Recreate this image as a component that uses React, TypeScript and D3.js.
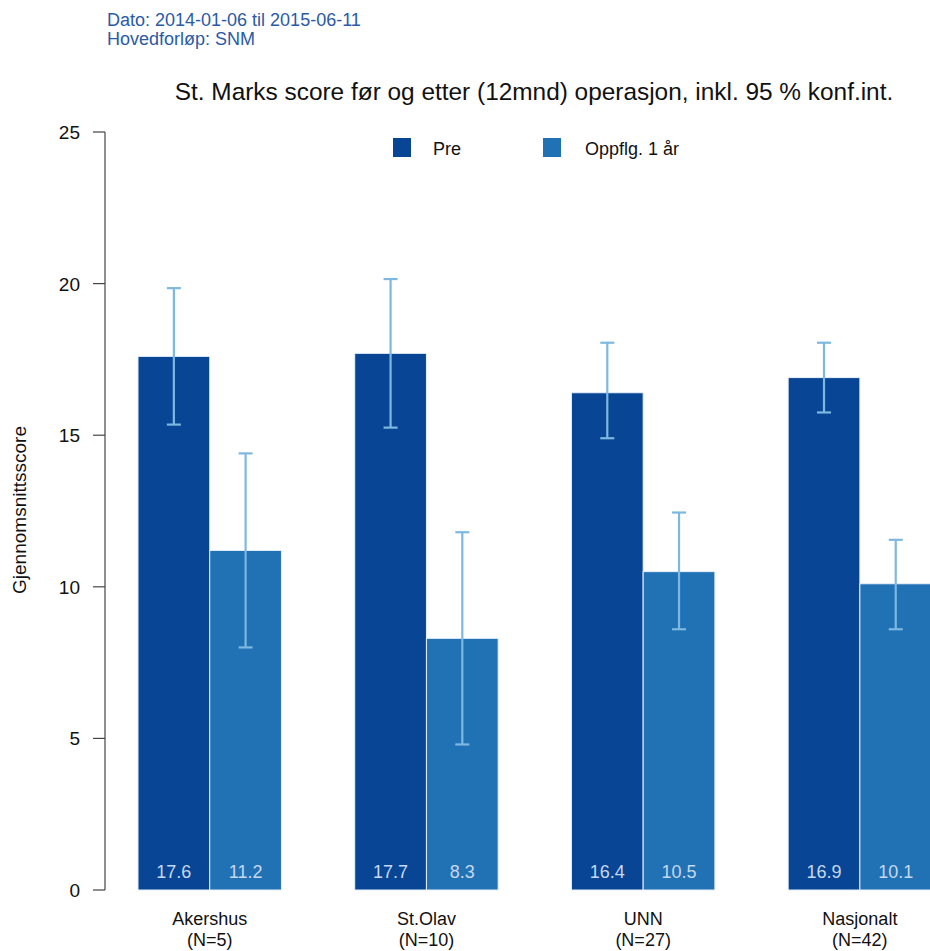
import React from "react";
import * as d3 from "d3";

const categories = ["Akershus", "St.Olav", "UNN", "Nasjonalt"];
const nLabels = ["(N=5)", "(N=10)", "(N=27)", "(N=42)"];
const series = ["Pre", "Oppflg. 1 år"];
const preValues = [17.6, 17.7, 16.4, 16.9];
const postValues = [11.2, 8.3, 10.5, 10.1];
const preLow = [15.35, 15.25, 14.9, 15.75];
const preHigh = [19.85, 20.15, 18.05, 18.05];
const postLow = [8.0, 4.8, 8.6, 8.6];
const postHigh = [14.4, 11.8, 12.45, 11.55];
const yTicks = [0, 5, 10, 15, 20, 25];

const W = 930;
const H = 951;
const colors = ["#084594", "#2171b5"];
const errColor = "#7db8e0";
const font = "'Liberation Sans', Arial, sans-serif";

export default function App() {
  const y = d3.scaleLinear().domain([0, 25]).range([890, 132]);
  const xg = d3
    .scaleBand<string>()
    .domain(categories)
    .range([138, 931.6])
    .paddingInner(0.338)
    .paddingOuter(0);
  const xs = d3.scaleBand<string>().domain(series).range([0, xg.bandwidth()]);
  const vals = [preValues, postValues];
  const lows = [preLow, postLow];
  const highs = [preHigh, postHigh];
  const cap = 7;

  return (
    <svg width={W} height={H} style={{ position: "absolute", left: 0, top: 0, display: "block" }} fontFamily={font}>
      <rect x={0} y={0} width={W} height={H} fill="#fff" />
      <text x={107} y={26} fontSize={18} fill="#2a5aa6">Dato: 2014-01-06 til 2015-06-11</text>
      <text x={107} y={45} fontSize={18} fill="#2a5aa6">Hovedforløp: SNM</text>
      <text x={534} y={100} fontSize={24.4} textAnchor="middle" fill="#111">
        St. Marks score før og etter (12mnd) operasjon, inkl. 95 % konf.int.
      </text>

      {/* y axis */}
      <line x1={105} x2={105} y1={y(0)} y2={y(25)} stroke="#444" strokeWidth={1.2} />
      {yTicks.map((t) => (
        <g key={t}>
          <line x1={93} x2={105} y1={y(t)} y2={y(t)} stroke="#444" strokeWidth={1.2} />
          <text x={80} y={y(t) + 7} fontSize={19} textAnchor="end" fill="#111">{t}</text>
        </g>
      ))}
      <text transform={`translate(26,510) rotate(-90)`} fontSize={19} textAnchor="middle" fill="#111">
        Gjennomsnittsscore
      </text>

      {/* legend */}
      {series.map((s, i) => {
        const lx = [393, 543][i];
        return (
          <g key={s}>
            <rect x={lx} y={138} width={18} height={19} fill={colors[i]} />
            <text x={[433, 585][i]} y={155} fontSize={18} fill="#111">{s}</text>
          </g>
        );
      })}

      {/* bars */}
      {categories.map((c, ci) => (
        <g key={c}>
          {series.map((s, si) => {
            const x0 = (xg(c) as number) + (xs(s) as number);
            const bw = xs.bandwidth();
            const v = vals[si][ci];
            const cx = x0 + bw / 2;
            return (
              <g key={s}>
                <rect x={x0} y={y(v)} width={bw} height={y(0) - y(v)} fill={colors[si]} stroke="#e8f0fa" strokeWidth={1} />
                <line x1={cx} x2={cx} y1={y(lows[si][ci])} y2={y(highs[si][ci])} stroke={errColor} strokeWidth={2.2} />
                <line x1={cx - cap} x2={cx + cap} y1={y(lows[si][ci])} y2={y(lows[si][ci])} stroke={errColor} strokeWidth={2.2} />
                <line x1={cx - cap} x2={cx + cap} y1={y(highs[si][ci])} y2={y(highs[si][ci])} stroke={errColor} strokeWidth={2.2} />
                <text x={cx} y={y(0) - 12} fontSize={18} textAnchor="middle" fill="#c6d8ee">{v.toFixed(1)}</text>
              </g>
            );
          })}
          <text x={(xg(c) as number) + xg.bandwidth() / 2} y={925} fontSize={18} textAnchor="middle" fill="#111">{c}</text>
          <text x={(xg(c) as number) + xg.bandwidth() / 2} y={946} fontSize={18} textAnchor="middle" fill="#111">{nLabels[ci]}</text>
        </g>
      ))}
    </svg>
  );
}
